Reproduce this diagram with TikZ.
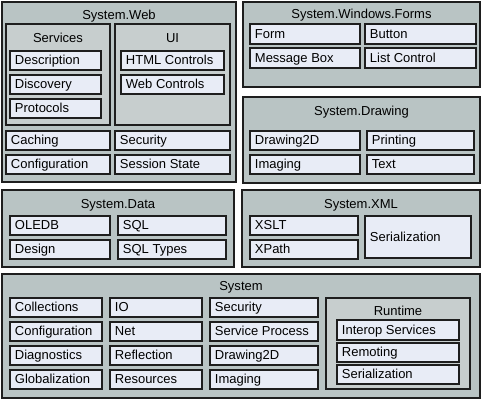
\documentclass[tikz,border=0pt]{standalone}
\usepackage{fontspec}
\setmainfont{Liberation Sans}
\usepackage{xcolor}
\definecolor{groupgray}{RGB}{185,196,196}
\definecolor{subgray}{RGB}{199,206,206}
\definecolor{leafblue}{RGB}{232,236,246}
\definecolor{edgegray}{RGB}{30,30,30}
\tikzset{
  group/.style={draw=edgegray, fill=groupgray, line width=0.6pt},
  subgroup/.style={draw=edgegray, fill=subgray, line width=0.6pt},
  leaf/.style={draw=edgegray, fill=leafblue, line width=0.6pt},
  lbl/.style={anchor=west, inner sep=2.6pt, yshift=0.7pt, font=\fontsize{7.4}{8}\selectfont, text height=1.5ex, text depth=.3ex},
  ttl/.style={inner sep=0pt, font=\fontsize{7.4}{8}\selectfont, text height=1.5ex, text depth=.3ex}
}

\begin{document}
\begin{tikzpicture}[x=0.02cm,y=-0.02cm]
\useasboundingbox[fill=white] (0,0) rectangle (481,400);
%System.Web
\draw[group] (2,2) rectangle (236,182);
\node[ttl] (web) at (119,14) {System.Web};
\draw[subgroup] (6,24) rectangle (110,125);
\node[ttl] (services) at (58,37) {Services};
\draw[leaf] (10,51) rectangle (101,70); \node[lbl] (description) at (10,60.5) {Description};
\draw[leaf] (10,75) rectangle (101,94); \node[lbl] (discovery) at (10,84.5) {Discovery};
\draw[leaf] (10,99) rectangle (101,118); \node[lbl] (protocols) at (10,108.5) {Protocols};
\draw[subgroup] (115,24) rectangle (230,125);
\node[ttl] (ui) at (172.5,37) {UI};
\draw[leaf] (121,51) rectangle (224,70); \node[lbl] (html) at (121,60.5) {HTML Controls};
\draw[leaf] (121,75) rectangle (224,94); \node[lbl] (webctl) at (121,84.5) {Web Controls};
\draw[leaf] (6,131) rectangle (110,150); \node[lbl] (caching) at (6,140.5) {Caching};
\draw[leaf] (115,131) rectangle (230,150); \node[lbl] (websec) at (115,140.5) {Security};
\draw[leaf] (6,155) rectangle (110,174); \node[lbl] (webconf) at (6,164.5) {Configuration};
\draw[leaf] (115,155) rectangle (230,174); \node[lbl] (session) at (115,164.5) {Session State};
%System.Windows.Forms
\draw[group] (243,2) rectangle (480,87);
\node[ttl] (forms) at (361.5,13) {System.Windows.Forms};
\draw[leaf] (250,24) rectangle (360,44); \node[lbl] (form) at (250,34) {Form};
\draw[leaf] (365,24) rectangle (476,44); \node[lbl] (button) at (365,34) {Button};
\draw[leaf] (250,48) rectangle (360,68); \node[lbl] (msgbox) at (250,58) {Message Box};
\draw[leaf] (365,48) rectangle (476,68); \node[lbl] (listctl) at (365,58) {List Control};
%System.Drawing
\draw[group] (243,97) rectangle (480,183);
\node[ttl] (drawing) at (361.5,110) {System.Drawing};
\draw[leaf] (250,131) rectangle (360,150); \node[lbl] (drawtwod) at (250,140.5) {Drawing2D};
\draw[leaf] (367,131) rectangle (474,150); \node[lbl] (printing) at (367,140.5) {Printing};
\draw[leaf] (250,155) rectangle (360,174); \node[lbl] (drawimg) at (250,164.5) {Imaging};
\draw[leaf] (367,155) rectangle (474,174); \node[lbl] (text) at (367,164.5) {Text};
%System.Data
\draw[group] (2,190) rectangle (234,267);
\node[ttl] (data) at (118,203) {System.Data};
\draw[leaf] (10,216) rectangle (110,235); \node[lbl] (oledb) at (10,225.5) {OLEDB};
\draw[leaf] (118,216) rectangle (226,235); \node[lbl] (sql) at (118,225.5) {SQL};
\draw[leaf] (10,240) rectangle (110,259); \node[lbl] (design) at (10,249.5) {Design};
\draw[leaf] (118,240) rectangle (226,259); \node[lbl] (sqltypes) at (118,249.5) {SQL Types};
%System.XML
\draw[group] (242,190) rectangle (480,267);
\node[ttl] (xml) at (361,203) {System.XML};
\draw[leaf] (250,216) rectangle (358,235); \node[lbl] (xslt) at (250,225.5) {XSLT};
\draw[leaf] (250,240) rectangle (358,259); \node[lbl] (xpath) at (250,249.5) {XPath};
\draw[leaf] (365,216) rectangle (471,258); \node[lbl] (xmlser) at (365,237) {Serialization};
%System
\draw[group] (2,274) rectangle (480,398);
\node[ttl] (system) at (241,285) {System};
\draw[leaf] (10,298) rectangle (102,317); \node[lbl] (collections) at (10,307.5) {Collections};
\draw[leaf] (10,322) rectangle (102,341); \node[lbl] (sysconf) at (10,331.5) {Configuration};
\draw[leaf] (10,346) rectangle (102,365); \node[lbl] (diagnostics) at (10,355.5) {Diagnostics};
\draw[leaf] (10,370) rectangle (102,389); \node[lbl] (globalization) at (10,379.5) {Globalization};
\draw[leaf] (110,298) rectangle (202,317); \node[lbl] (io) at (110,307.5) {IO};
\draw[leaf] (110,322) rectangle (202,341); \node[lbl] (net) at (110,331.5) {Net};
\draw[leaf] (110,346) rectangle (202,365); \node[lbl] (reflection) at (110,355.5) {Reflection};
\draw[leaf] (110,370) rectangle (202,389); \node[lbl] (resources) at (110,379.5) {Resources};
\draw[leaf] (210,298) rectangle (318,317); \node[lbl] (syssec) at (210,307.5) {Security};
\draw[leaf] (210,322) rectangle (318,341); \node[lbl] (svcproc) at (210,331.5) {Service Process};
\draw[leaf] (210,346) rectangle (318,365); \node[lbl] (sysdraw) at (210,355.5) {Drawing2D};
\draw[leaf] (210,370) rectangle (318,389); \node[lbl] (sysimg) at (210,379.5) {Imaging};
\draw[subgroup] (326,298) rectangle (470,389);
\node[ttl] (runtime) at (398,310) {Runtime};
\draw[leaf] (337,320) rectangle (459,340); \node[lbl] (interop) at (337,330) {Interop Services};
\draw[leaf] (337,343) rectangle (459,362); \node[lbl] (remoting) at (337,352.5) {Remoting};
\draw[leaf] (337,365) rectangle (459,384); \node[lbl] (rtser) at (337,374.5) {Serialization};
\end{tikzpicture}
\end{document}
